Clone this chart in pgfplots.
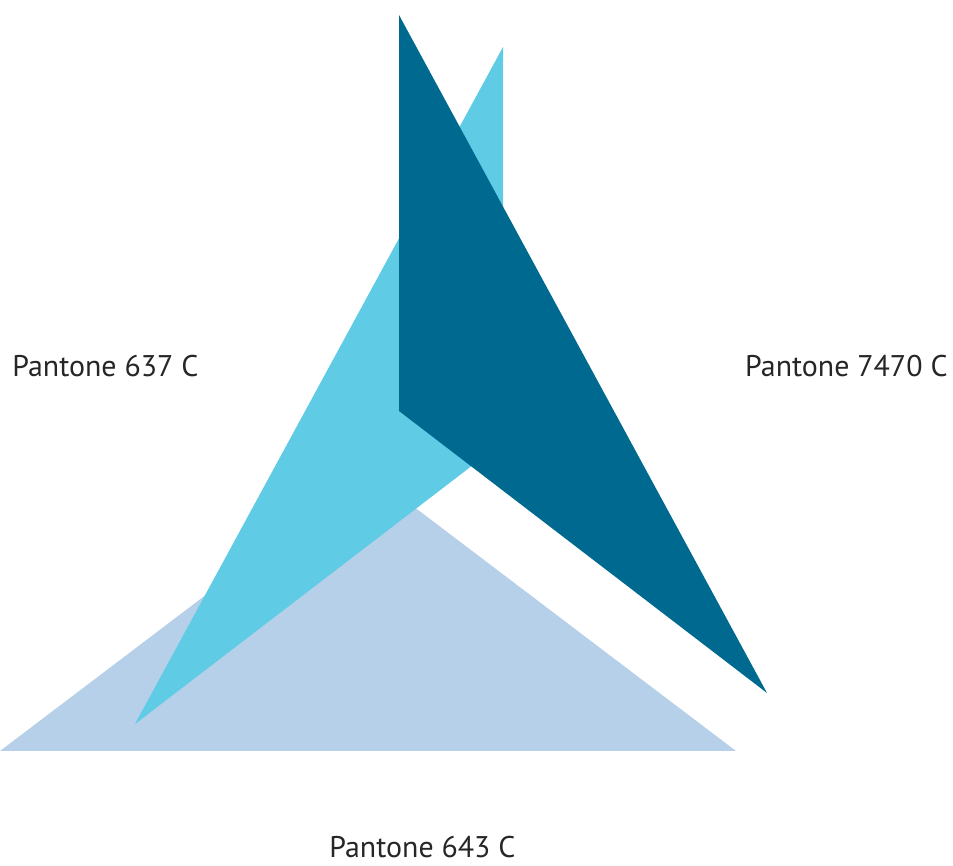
\documentclass[border=0pt]{standalone}
\usepackage{pgfplots}
\pgfplotsset{compat=1.18}
\usepackage{fontspec}
\setmainfont{PT Sans}

\definecolor{p7470}{HTML}{00698F}
\definecolor{p637}{HTML}{5FCBE5}
\definecolor{p643}{HTML}{B5D0E8}

\begin{document}
\begin{tikzpicture}
    \begin{axis}[
        width=476.5bp,
        height=433bp,
        scale only axis,
        hide axis,
        clip=false,
        xmin=0, xmax=953,
        ymin=0, ymax=866,
    ]
        % Pantone 643 C
        \addplot[draw=none, fill=p643] coordinates {
            (0, 115) (736, 115) (368, 394)
        } -- cycle;
        % Pantone 637 C
        \addplot[draw=none, fill=p637] coordinates {
            (503, 819) (503, 424) (135, 142)
        } -- cycle;
        % Pantone 7470 C
        \addplot[draw=none, fill=p7470] coordinates {
            (399, 851) (399, 455) (767, 173)
        } -- cycle;

        \node[anchor=base west, inner sep=0pt, font=\fontsize{15}{18}\selectfont, text=black!85]
            at (axis cs:12, 489) {Pantone 637 C};
        \node[anchor=base east, inner sep=0pt, font=\fontsize{15}{18}\selectfont, text=black!85]
            at (axis cs:948, 489) {Pantone 7470 C};
        \node[anchor=base, inner sep=0pt, font=\fontsize{15}{18}\selectfont, text=black!85]
            at (axis cs:422.5, 9) {Pantone 643 C};

        \path (axis cs:0,0) rectangle (axis cs:953,866);
    \end{axis}
\end{tikzpicture}
\end{document}
